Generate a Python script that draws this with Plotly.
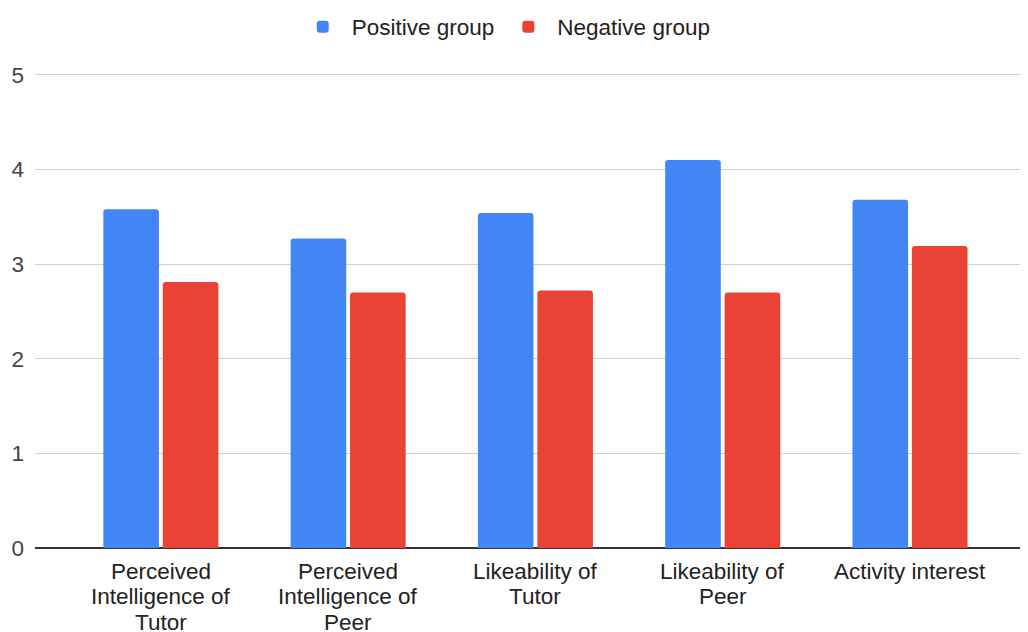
import plotly.graph_objects as go

categories = ["Perceived Intelligence of Tutor", "Perceived Intelligence of Peer",
              "Likeability of Tutor", "Likeability of Peer", "Activity interest"]
label_lines = [["Perceived", "Intelligence of", "Tutor"],
               ["Perceived", "Intelligence of", "Peer"],
               ["Likeability of", "Tutor"],
               ["Likeability of", "Peer"],
               ["Activity interest"]]
positive = [3.58, 3.27, 3.54, 4.10, 3.68]
negative = [2.81, 2.70, 2.72, 2.70, 3.19]
y_ticks = [0, 1, 2, 3, 4, 5]

FONT = "Liberation Sans, Arial, sans-serif"
FS = 22.5

fig = go.Figure()
fig.add_trace(go.Bar(x=categories, y=positive, name="Positive group",
                     marker=dict(color="#4285F4", line=dict(width=0))))
fig.add_trace(go.Bar(x=categories, y=negative, name="Negative group",
                     marker=dict(color="#EA4335", line=dict(width=0))))

# page body has an 8px margin: figure is drawn from (8, 8)
W, H = 1020, 624
T, B, L = 62, 84, 27
plot_h = H - T - B
annotations = []
for cat, lines in zip(categories, label_lines):
    for i, ln in enumerate(lines):
        annotations.append(dict(x=cat, xref="x", y=(-23 - 25.5 * i) / plot_h, yref="y domain",
                                text=ln, showarrow=False,
                                font=dict(family=FONT, size=FS, color="#222222"),
                                xanchor="center", yanchor="middle"))

fig.update_layout(
    width=W, height=H,
    margin=dict(l=L, r=0, t=T, b=B, autoexpand=False),
    paper_bgcolor="white", plot_bgcolor="white",
    barmode="group", bargap=0.365, bargroupgap=0.065,
    barcornerradius=3,
    font=dict(family=FONT, size=FS, color="#444444"),
    showlegend=True,
    legend=dict(orientation="h", xref="container", yref="container",
                x=0.487, xanchor="center", y=1 - 19 / H, yanchor="middle",
                font=dict(family=FONT, size=FS, color="#222222"),
                itemwidth=48, traceorder="normal"),
    xaxis=dict(range=[-0.672, 4.63], showticklabels=False, showgrid=False,
               showline=False, zeroline=False, ticks=""),
    yaxis=dict(range=[0, 5.05], tickvals=y_ticks, showgrid=True,
               gridcolor="#D0D0D0", gridwidth=1, zeroline=True,
               zerolinecolor="#333333", zerolinewidth=1.5,
               showline=False, ticks="", ticklabelstandoff=10,
               tickfont=dict(family=FONT, size=FS, color="#444444")),
    annotations=annotations,
)

fig.write_html("out.html")
